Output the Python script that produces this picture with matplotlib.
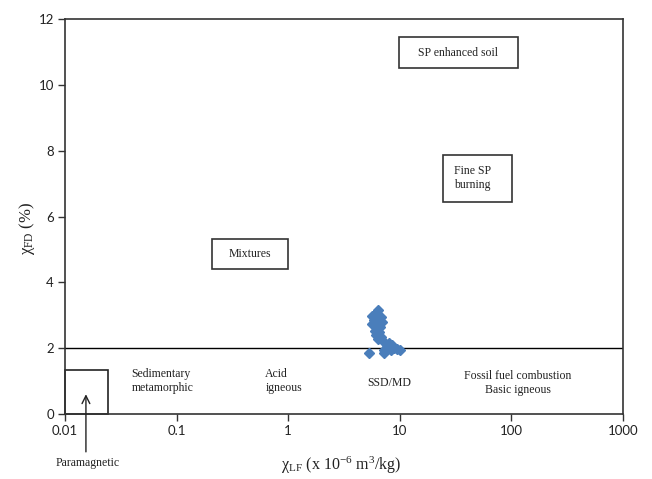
import matplotlib
matplotlib.use("Agg")
import matplotlib.pyplot as plt
from matplotlib.patches import Rectangle
from matplotlib.ticker import FixedLocator, FixedFormatter, NullLocator

plt.rcParams['mathtext.fontset'] = 'custom'
plt.rcParams['mathtext.rm'] = 'Liberation Serif'
plt.rcParams['mathtext.it'] = 'Liberation Serif:italic'

# --- data ---
chi_lf = [6.41, 6.15, 5.66, 6.73, 5.86, 6.28, 6.96, 5.66, 6.07, 6.59,
          5.98, 6.49, 6.15, 6.73, 6.41, 7.20, 7.98, 8.44, 7.72, 8.85,
          9.50, 7.20, 8.27, 5.28, 7.20, 9.96]
chi_fd = [3.15, 3.06, 2.99, 2.96, 2.86, 2.83, 2.80, 2.73, 2.67, 2.65,
          2.53, 2.50, 2.40, 2.35, 2.27, 2.20, 2.17, 2.10, 2.04, 2.00,
          1.97, 1.94, 1.94, 1.84, 1.84, 1.94]

x_ticks = [0.01, 0.1, 1, 10, 100, 1000]
x_tick_labels = ["0.01", "0.1", "1", "10", "100", "1000"]
y_ticks = [0, 2, 4, 6, 8, 10, 12]
threshold = 2.0

# boxed labels: (text, x0, x1, y0, y1, text_x, text_y, ha)
boxed = [
    ("SP enhanced soil", 9.75, 114, 10.51, 11.45, 33.3, 10.98, "center"),
    ("Fine SP\nburning", 24.5, 102, 6.45, 7.87, 30.6, 7.17, "left"),
    ("Mixtures", 0.207, 0.99, 4.40, 5.32, 0.453, 4.86, "center"),
]
# region labels: (text, x, y, ha)
regions = [
    ("Sedimentary\nmetamorphic", 0.0394, 1.0, "left"),
    ("Acid\nigneous", 0.624, 1.0, "left"),
    ("SSD/MD", 8.1, 0.93, "center"),
    ("Fossil fuel combustion\nBasic igneous", 115, 0.93, "center"),
]
para_box = (0.01, 0.0242, 0.0, 1.34)

fig = plt.figure(figsize=(6.52, 4.79), dpi=100)
ax = fig.add_axes([65/652, 1-414/479, 558/652, 395/479])
ax.set_xscale('log')
ax.set_xlim(0.01, 1000)
ax.set_ylim(0, 12)

ax.plot(chi_lf, chi_fd, linestyle='none', marker='D', markersize=5,
        color='#4A7EBB', markeredgecolor='#4A7EBB', zorder=3)
ax.plot([0.01, 1000], [threshold, threshold], color='black', lw=1.0, zorder=2)

serif = 'Liberation Serif'
for txt, x0, x1, y0, y1, tx, ty, ha in boxed:
    ax.add_patch(Rectangle((x0, y0), x1 - x0, y1 - y0, fill=False,
                           edgecolor='#333333', lw=1.2, zorder=2))
    ax.text(tx, ty, txt, ha=ha, va='center', family=serif, fontsize=8.5,
            color='#222222', linespacing=1.2)

for txt, x, y, ha in regions:
    ax.text(x, y, txt, ha=ha, va='center', family=serif, fontsize=8.5,
            color='#222222', multialignment=ha if ha != 'center' else 'center',
            linespacing=1.2)

px0, px1, py0, py1 = para_box
ax.add_patch(Rectangle((px0, py0), px1 - px0, py1 - py0, fill=False,
                       edgecolor='#222222', lw=1.2, zorder=2, clip_on=False))
ax.annotate("", xy=(0.0154, 0.6), xytext=(0.0154, -1.15),
            arrowprops=dict(arrowstyle='->', lw=1.0, color='#222222',
                            mutation_scale=14, shrinkA=0, shrinkB=0),
            annotation_clip=False)
ax.text(0.016, -1.49, "Paramagnetic", ha='center', va='center',
        family=serif, fontsize=8.5, color='#222222', clip_on=False)

ax.xaxis.set_major_locator(FixedLocator(x_ticks))
ax.xaxis.set_major_formatter(FixedFormatter(x_tick_labels))
ax.xaxis.set_minor_locator(NullLocator())
ax.set_yticks(y_ticks)
ax.set_yticklabels([str(v) for v in y_ticks])
ax.tick_params(axis='both', which='major', direction='out', length=5,
               width=1.0, color='#333333', labelsize=9.5, labelcolor='#222222',
               pad=3)
for lab in ax.get_xticklabels() + ax.get_yticklabels():
    lab.set_family('Lato')

for sp in ax.spines.values():
    sp.set_color('#333333')
    sp.set_linewidth(1.2)

ax.set_xlabel('χ$_{\\mathrm{LF}}$ (x 10$^{\\mathrm{-6}}$ m$^{\\mathrm{3}}$/kg)',
              family=serif, fontsize=11.5, color='#222222')
ax.xaxis.set_label_coords((341.5-65)/558, (414-465)/395)
ax.xaxis.label.set_va('center')
ax.set_ylabel('χ$_{\\mathrm{FD}}$ (%)', family=serif, fontsize=12,
              color='#222222')
ax.yaxis.set_label_coords((27-65)/558, (414-228)/395)
ax.yaxis.label.set_va('center')

fig.savefig('out.png', dpi=100)
